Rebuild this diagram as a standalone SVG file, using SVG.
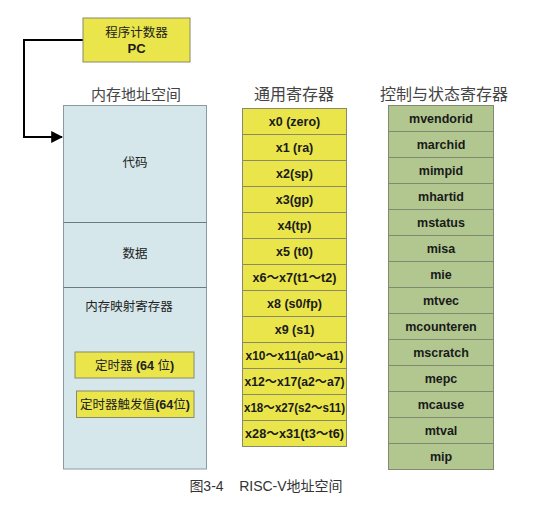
<svg xmlns="http://www.w3.org/2000/svg" width="542" height="506" viewBox="0 0 542 506">
<defs>
<marker id="arr" viewBox="0 0 10 10" refX="9" refY="5" markerWidth="6" markerHeight="6" markerUnits="strokeWidth" orient="auto">
<path d="M0,0 L10,5 L0,10 Z" fill="#000"/>
</marker>
<style>
.title{font-family:"Liberation Serif","Noto Sans CJK SC",serif;font-size:15px;fill:#444;text-anchor:middle}
.cn{font-family:"Liberation Sans","Noto Sans CJK SC",sans-serif;font-size:12.5px;fill:#222;text-anchor:middle}
.reg{font-family:"Liberation Sans","Noto Sans CJK SC",sans-serif;font-size:12.5px;font-weight:bold;fill:#1a1a1a;text-anchor:middle}
.yel{fill:#e9e54a;stroke:#8a8a6a;stroke-width:1}
.grn{fill:#b1c78f;stroke:#7f8a70;stroke-width:1}
.mem{fill:#d5e7ea;stroke:#8a9aa0;stroke-width:1}
.div{stroke:#6e7a7e;stroke-width:1}
.b{font-weight:bold}
</style>
</defs>
<rect width="542" height="506" fill="#fff"/>

<g id="connectors">
<polyline points="83,40 24,40 24,137 62,137" fill="none" stroke="#000" stroke-width="2" marker-end="url(#arr)"/>
</g>

<g id="pc">
<rect class="yel" x="83" y="18" width="107" height="44"/>
<text class="cn" x="136.5" y="37">程序计数器</text>
<text class="reg" x="136.5" y="53" style="font-size:13px">PC</text>
</g>

<g id="memory">
<text class="title" x="136" y="100">内存地址空间</text>
<rect class="mem" x="63.5" y="105.5" width="143" height="363.5"/>
<line class="div" x1="63.5" y1="222.5" x2="206.5" y2="222.5"/>
<line class="div" x1="63.5" y1="287.5" x2="206.5" y2="287.5"/>
<text class="cn" x="135" y="167">代码</text>
<text class="cn" x="135" y="258">数据</text>
<text class="cn" x="129" y="311">内存映射寄存器</text>
<g id="timer">
<rect class="yel" x="75" y="352" width="119" height="26"/>
<text class="cn" x="134.5" y="369.5">定时器 <tspan class="b">(64</tspan> 位<tspan class="b">)</tspan></text>
</g>
<g id="timercmp">
<rect class="yel" x="76.5" y="391" width="117.5" height="26.5"/>
<text class="cn" x="135" y="408.5">定时器触发值<tspan class="b">(64</tspan>位<tspan class="b">)</tspan></text>
</g>
</g>

<g id="gpr">
<text class="title" x="294" y="100" style="font-size:16px">通用寄存器</text>
<g id="gpr-rows">
<rect class="yel" x="242.5" y="108.5" width="104" height="26"/><text class="reg" x="294.5" y="126">x0 (zero)</text>
<rect class="yel" x="242.5" y="134.5" width="104" height="26"/><text class="reg" x="294.5" y="152">x1 (ra)</text>
<rect class="yel" x="242.5" y="160.5" width="104" height="26"/><text class="reg" x="294.5" y="178">x2(sp)</text>
<rect class="yel" x="242.5" y="186.5" width="104" height="26"/><text class="reg" x="294.5" y="204">x3(gp)</text>
<rect class="yel" x="242.5" y="212.5" width="104" height="26"/><text class="reg" x="294.5" y="230">x4(tp)</text>
<rect class="yel" x="242.5" y="238.5" width="104" height="26"/><text class="reg" x="294.5" y="256">x5 (t0)</text>
<rect class="yel" x="242.5" y="264.5" width="104" height="26"/><text class="reg" x="294.5" y="282" textLength="84" lengthAdjust="spacingAndGlyphs">x6～x7(t1～t2)</text>
<rect class="yel" x="242.5" y="290.5" width="104" height="26"/><text class="reg" x="294.5" y="308">x8 (s0/fp)</text>
<rect class="yel" x="242.5" y="316.5" width="104" height="26"/><text class="reg" x="294.5" y="334">x9 (s1)</text>
<rect class="yel" x="242.5" y="342.5" width="104" height="26"/><text class="reg" x="294.5" y="360" textLength="98" lengthAdjust="spacingAndGlyphs">x10～x11(a0～a1)</text>
<rect class="yel" x="242.5" y="368.5" width="104" height="26"/><text class="reg" x="294.5" y="386" textLength="100" lengthAdjust="spacingAndGlyphs">x12～x17(a2～a7)</text>
<rect class="yel" x="242.5" y="394.5" width="104" height="26"/><text class="reg" x="294.5" y="412" textLength="101" lengthAdjust="spacingAndGlyphs">x18～x27(s2～s11)</text>
<rect class="yel" x="242.5" y="420.5" width="104" height="26"/><text class="reg" x="294.5" y="438" textLength="99" lengthAdjust="spacingAndGlyphs">x28～x31(t3～t6)</text>
</g>
</g>

<g id="csr">
<text class="title" x="444" y="100" style="font-size:16px">控制与状态寄存器</text>
<g id="csr-rows">
<rect class="grn" x="388.5" y="105.5" width="105" height="26"/><text class="reg" x="441" y="123">mvendorid</text>
<rect class="grn" x="388.5" y="131.5" width="105" height="26"/><text class="reg" x="441" y="149">marchid</text>
<rect class="grn" x="388.5" y="157.5" width="105" height="26"/><text class="reg" x="441" y="175">mimpid</text>
<rect class="grn" x="388.5" y="183.5" width="105" height="26"/><text class="reg" x="441" y="201">mhartid</text>
<rect class="grn" x="388.5" y="209.5" width="105" height="26"/><text class="reg" x="441" y="227">mstatus</text>
<rect class="grn" x="388.5" y="235.5" width="105" height="26"/><text class="reg" x="441" y="253">misa</text>
<rect class="grn" x="388.5" y="261.5" width="105" height="26"/><text class="reg" x="441" y="279">mie</text>
<rect class="grn" x="388.5" y="287.5" width="105" height="26"/><text class="reg" x="441" y="305">mtvec</text>
<rect class="grn" x="388.5" y="313.5" width="105" height="26"/><text class="reg" x="441" y="331">mcounteren</text>
<rect class="grn" x="388.5" y="339.5" width="105" height="26"/><text class="reg" x="441" y="357">mscratch</text>
<rect class="grn" x="388.5" y="365.5" width="105" height="26"/><text class="reg" x="441" y="383">mepc</text>
<rect class="grn" x="388.5" y="391.5" width="105" height="26"/><text class="reg" x="441" y="409">mcause</text>
<rect class="grn" x="388.5" y="417.5" width="105" height="26"/><text class="reg" x="441" y="435">mtval</text>
<rect class="grn" x="388.5" y="443.5" width="105" height="26"/><text class="reg" x="441" y="461">mip</text>
</g>
</g>

<text x="266" y="491" style="font-family:'Liberation Sans','Noto Sans CJK SC',sans-serif;font-size:14px;fill:#333;text-anchor:middle" xml:space="preserve">图3-4    RISC-V地址空间</text>
</svg>
